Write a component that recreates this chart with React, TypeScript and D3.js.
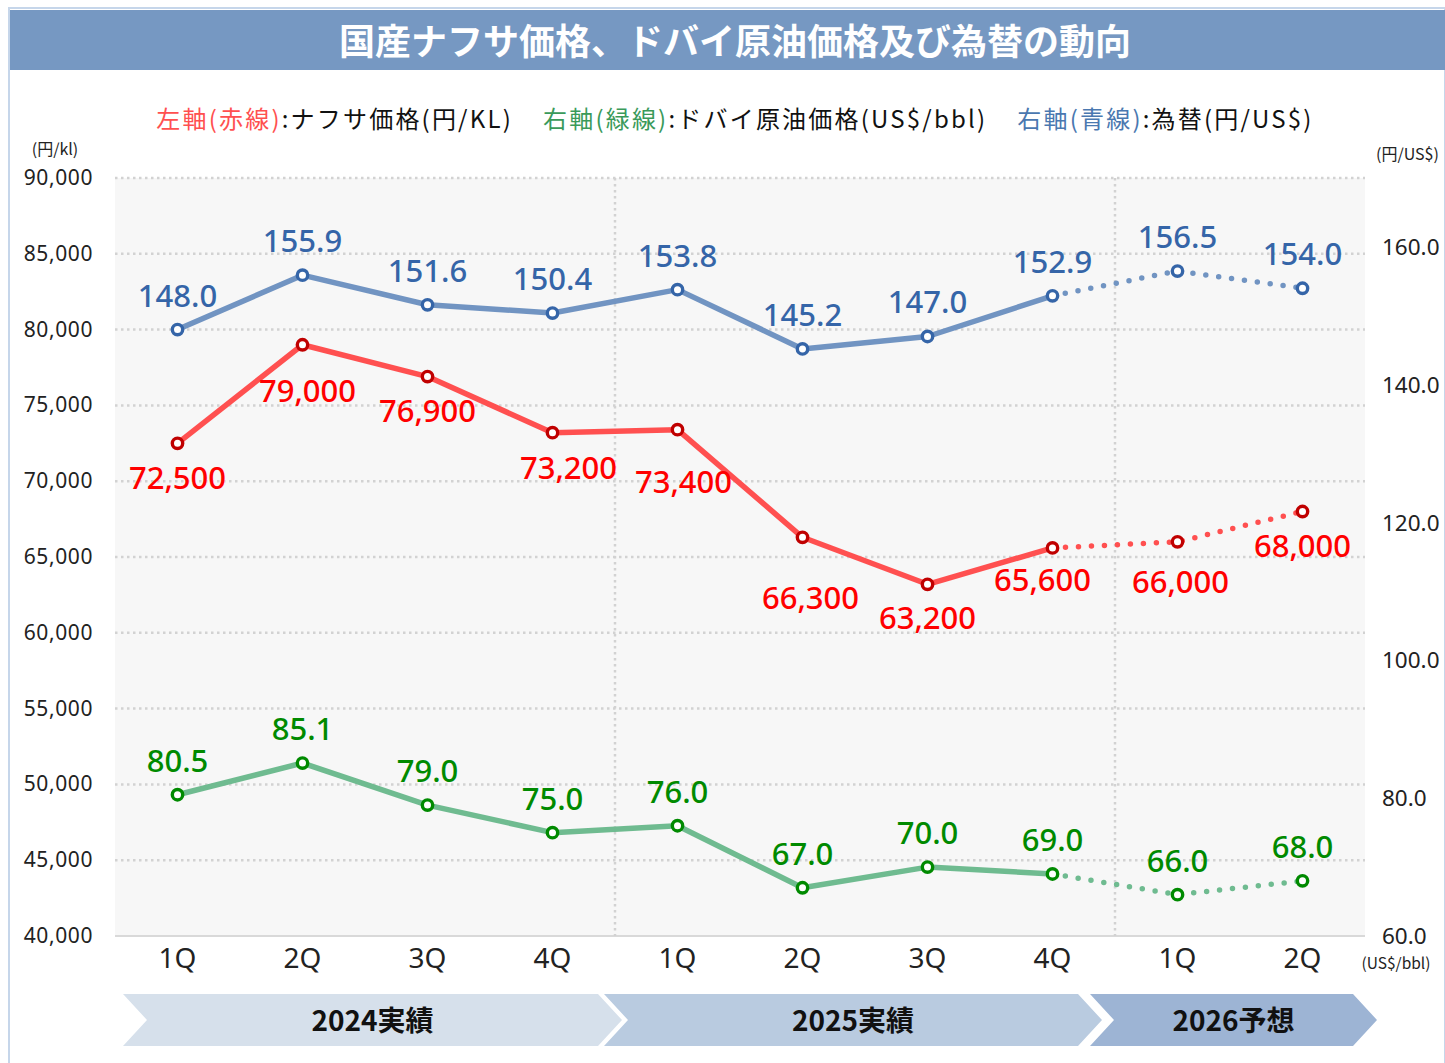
import React from "react";
import * as d3 from "d3";

const quarters = ["1Q", "2Q", "3Q", "4Q", "1Q", "2Q", "3Q", "4Q", "1Q", "2Q"];
const naphtha = [72500, 79000, 76900, 73200, 73400, 66300, 63200, 65600, 66000, 68000];
const dubai = [80.5, 85.1, 79.0, 75.0, 76.0, 67.0, 70.0, 69.0, 66.0, 68.0];
const fx = [148.0, 155.9, 151.6, 150.4, 153.8, 145.2, 147.0, 152.9, 156.5, 154.0];
const leftTicks = [40000, 45000, 50000, 55000, 60000, 65000, 70000, 75000, 80000, 85000, 90000];
const rightTicks = [60, 80, 100, 120, 140, 160];
const periods = ["2024実績", "2025実績", "2026予想"];
const periodSpan = [[0, 3], [4, 7], [8, 9]];
const forecastFrom = 7; // last actual point index

// label nudges (x, y) for the red data labels, below the point
const redNudge = [[0, 35], [5, 46], [0, 34], [16, 35], [6, 52], [8, 61], [0, 34], [-10, 32], [3, 40], [0, 34]];

const W = 1445, H = 1063;
const M = { left: 115, right: 1365, top: 178, bottom: 936 };
const NUM = "'Noto Sans', 'Noto Sans CJK JP', sans-serif";
const JP = "'Noto Sans CJK JP', 'Noto Sans', sans-serif";

const x = d3.scalePoint<number>().domain(d3.range(quarters.length)).range([M.left, M.right]).padding(0.5);
const yL = d3.scaleLinear().domain([40000, 90000]).range([M.bottom, M.top]);
const yR = d3.scaleLinear().domain([60, 170]).range([M.bottom, M.top]);
const step = x.step();

type Series = {
  values: number[];
  y: (v: number) => number;
  line: string;
  marker: string;
  label: string;
  fmt: (v: number) => string;
};

const series: Series[] = [
  { values: fx, y: yR, line: "#7194c2", marker: "#3565a8", label: "#3565a8", fmt: d3.format(".1f") },
  { values: naphtha, y: yL, line: "#ff5050", marker: "#c00000", label: "#ff0000", fmt: d3.format(",") },
  { values: dubai, y: yR, line: "#6fbb90", marker: "#008a00", label: "#008a00", fmt: d3.format(".1f") },
];

function Line({ s }: { s: Series }) {
  const gen = d3.line<number>().x((_, i) => x(i)!).y((v) => s.y(v));
  const solid = s.values.slice(0, forecastFrom + 1);
  const dotted = s.values.slice(forecastFrom);
  const genDot = d3.line<number>().x((_, i) => x(i + forecastFrom)!).y((v) => s.y(v));
  return (
    <g>
      <path d={gen(solid)!} fill="none" stroke={s.line} strokeWidth={5.5} strokeLinejoin="round" />
      <path d={genDot(dotted)!} fill="none" stroke={s.line} strokeWidth={5.5} strokeLinecap="round" strokeDasharray="0 13" />
      {s.values.map((v, i) => (
        <circle key={i} cx={x(i)} cy={s.y(v)} r={5.2} fill="#fff" stroke={s.marker} strokeWidth={3.4} />
      ))}
    </g>
  );
}

export default function App() {
  const legend = [
    { t: "左軸(赤線)", c: "#ff5050" },
    { t: ":ナフサ価格(円/KL)", c: "#111" },
    { t: "右軸(緑線)", c: "#3a9a5a", gap: 30 },
    { t: ":ドバイ原油価格(US$/bbl)", c: "#111" },
    { t: "右軸(青線)", c: "#4a78b0", gap: 30 },
    { t: ":為替(円/US$)", c: "#111" },
  ];
  const chevron = (x0: number, x1: number) => {
    const t = 994, b = 1046, mid = (t + b) / 2, d = 24;
    return `M${x0},${t}L${x1 - d},${t}L${x1},${mid}L${x1 - d},${b}L${x0},${b}L${x0 + d},${mid}Z`;
  };
  const chevColors = ["#d6e0eb", "#b9cbe0", "#9db4d4"];
  const chevPad = [[8, 7], [-11, -13], [-25, 12]];

  return (
    <div style={{ position: "absolute", left: 0, top: 0 }}>
      <svg width={W} height={H} style={{ display: "block", background: "#fff" }}>
        {/* frame & title */}
        <rect x={9} y={8} width={W - 9} height={H} fill="#fff" stroke="#c6d6ea" strokeWidth={2} />
        <rect x={10} y={10} width={W - 10} height={60} fill="#7698c2" />
        <text x={735} y={55} textAnchor="middle" fontFamily={JP} fontWeight={700} fontSize={36} fill="#fff">
          国産ナフサ価格、ドバイ原油価格及び為替の動向
        </text>

        {/* legend */}
        <text x={735} y={128} textAnchor="middle" fontFamily={JP} fontSize={24} letterSpacing={2.2}>
          {legend.map((l, i) => (
            <tspan key={i} fill={l.c} dx={l.gap ?? 0}>{l.t}</tspan>
          ))}
        </text>

        {/* plot background + grid */}
        <rect x={M.left} y={M.top} width={M.right - M.left} height={M.bottom - M.top} fill="#f7f7f7" />
        {leftTicks.slice(1).map((t) => (
          <line key={t} x1={M.left} x2={M.right} y1={yL(t)} y2={yL(t)} stroke="#d2d2d2" strokeWidth={2.5} strokeDasharray="2.5 3.5" />
        ))}
        <line x1={M.left} x2={M.right} y1={M.bottom} y2={M.bottom} stroke="#d9d9d9" strokeWidth={2} />
        {periodSpan.slice(1).map(([a]) => (
          <line key={a} x1={x(a)! - step / 2} x2={x(a)! - step / 2} y1={M.top} y2={M.bottom} stroke="#d2d2d2" strokeWidth={2.5} strokeDasharray="2.5 3.5" />
        ))}

        {/* left axis */}
        <text x={55} y={155} textAnchor="middle" fontFamily={JP} fontSize={16} fill="#222">(円/kl)</text>
        {leftTicks.map((t) => (
          <text key={t} x={93} y={yL(t) + 7} textAnchor="end" fontFamily={NUM} fontSize={21} letterSpacing={0.6} fill="#222">
            {d3.format(",")(t)}
          </text>
        ))}

        {/* right axis */}
        <text x={1376} y={160} fontFamily={JP} fontSize={16} fill="#222">(円/US$)</text>
        {rightTicks.map((t) => (
          <text key={t} x={1382} y={yR(t) + 8} fontFamily={NUM} fontSize={22.5} fill="#222">
            {d3.format(".1f")(t)}
          </text>
        ))}
        <text x={1396} y={969} textAnchor="middle" fontFamily={JP} fontSize={15.5} fill="#222">(US$/bbl)</text>

        {/* x axis */}
        {quarters.map((q, i) => (
          <text key={i} x={x(i)} y={968} textAnchor="middle" fontFamily={NUM} fontSize={28} fill="#222">{q}</text>
        ))}

        {/* lines */}
        {series.map((s, i) => <Line key={i} s={s} />)}

        {/* data labels */}
        {fx.map((v, i) => (
          <text key={"b" + i} x={x(i)} y={yR(v) - 23} textAnchor="middle" fontFamily={NUM} fontWeight={500} fontSize={31} fill={series[0].label}>
            {series[0].fmt(v)}
          </text>
        ))}
        {naphtha.map((v, i) => (
          <text key={"r" + i} x={x(i)! + redNudge[i][0]} y={yL(v) + redNudge[i][1] + 11} textAnchor="middle" fontFamily={NUM} fontWeight={500} fontSize={31} fill={series[1].label}>
            {series[1].fmt(v)}
          </text>
        ))}
        {dubai.map((v, i) => (
          <text key={"g" + i} x={x(i)} y={yR(v) - 23} textAnchor="middle" fontFamily={NUM} fontWeight={500} fontSize={31} fill={series[2].label}>
            {series[2].fmt(v)}
          </text>
        ))}

        {/* period chevrons */}
        {periodSpan.map(([a, b], i) => {
          const x0 = x(a)! - step / 2 + chevPad[i][0];
          const x1 = x(b)! + step / 2 + chevPad[i][1];
          return (
            <g key={i}>
              <path d={chevron(x0, x1)} fill={chevColors[i]} />
              <text x={(x0 + x1) / 2} y={1031} textAnchor="middle" fontFamily={JP} fontWeight={700} fontSize={28} fill="#111">
                {periods[i]}
              </text>
            </g>
          );
        })}
      </svg>
    </div>
  );
}
